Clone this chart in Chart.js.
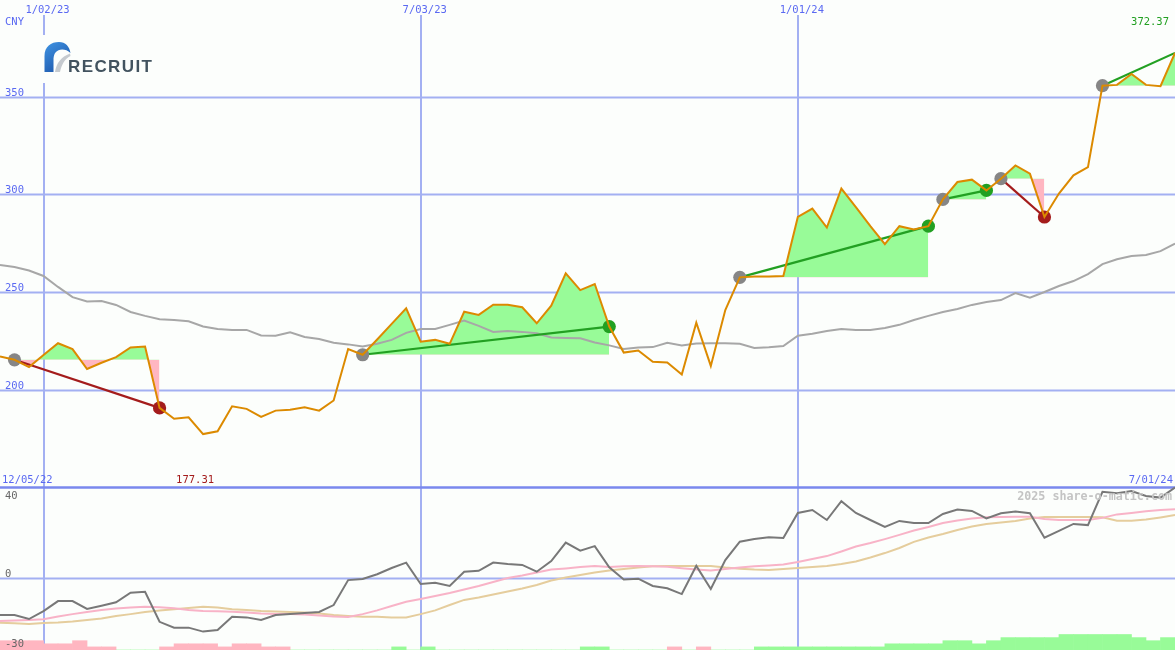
<!DOCTYPE html>
<html>
<head>
<meta charset="utf-8">
<script src="https://cdn.jsdelivr.net/npm/chart.js@4.4.1/dist/chart.umd.min.js"></script>
<style>
  html, body { margin: 0; padding: 0; background: #fcfefc; }
  #wrap { width: 1175px; height: 650px; }
</style>
</head>
<body>
<div id="wrap"><canvas id="c" width="1175" height="650"></canvas></div>
<script>
// ---------------- DATA ----------------
const firstWeek = -3;              // week index of first point (weeks relative to 1/02/23)
const currency = 'CNY';
const startLabel = '12/05/22';
const endLabel = '7/01/24';
const dateTickWeeks = [0, 26, 52];
const dateTickLabels = ['1/02/23', '7/03/23', '1/01/24'];
const priceTicks = [350, 300, 250, 200];
const oscTicks = [40, 0, -30];

// weekly close price
const price = [
  217.0, 215.3, 211.6, 217.8, 223.8, 220.8, 210.6, 213.8, 216.7, 221.6, 222.1,
  190.7, 185.1, 185.9, 177.31, 178.7, 191.5, 190.2, 186.1, 189.3, 189.8,
  191.0, 189.3, 194.5, 220.8, 217.9, 225.7, 233.7, 241.7, 224.6, 225.5,
  223.5, 239.9, 238.3, 243.5, 243.5, 242.2, 234.0, 243.0, 259.5, 251.0,
  254.1, 232.3, 219.0, 220.1, 214.3, 213.9, 207.8, 234.3, 212.2, 240.8,
  257.5, 257.9, 258.0, 258.2, 288.4, 292.7, 283.0, 302.9, 293.4, 283.7,
  274.5, 283.7, 282.0, 283.7, 297.4, 306.3, 307.5, 302.0, 308.0, 314.8,
  310.6, 288.4, 300.4, 309.7, 313.9, 355.6, 356.0, 361.6, 356.0, 355.3, 372.37
];
// moving average (grey)
const movingAvg = [
  263.8, 262.8, 261.0, 258.2, 252.6, 247.4, 245.2, 245.4, 243.4, 239.8, 237.8,
  236.1, 235.7, 235.0, 232.4, 231.1, 230.6, 230.6, 227.8, 227.6, 229.4,
  227.0, 226.0, 224.0, 223.2, 222.1, 223.5, 225.5, 229.1, 231.1, 231.1,
  233.2, 235.4, 232.7, 229.6, 230.1, 229.6, 228.9, 226.7, 226.5, 226.3,
  224.2, 222.7, 220.9, 221.6, 221.8, 224.0, 222.6, 223.7, 223.8, 223.8,
  223.5, 221.4, 221.7, 222.4, 227.6, 228.6, 230.1, 231.1, 230.6, 230.6,
  231.6, 233.2, 235.7, 237.8, 239.8, 241.3, 243.4, 244.9, 245.9, 249.5,
  247.1, 250.0, 253.1, 255.6, 259.2, 264.3, 266.8, 268.4, 268.9, 270.9, 274.8
];
// lower panel oscillator lines
const oscMain = [
  -15.9, -15.9, -17.6, -14.2, -9.9, -9.9, -13.3, -11.9, -10.4, -6.3, -5.9,
  -18.8, -21.3, -21.3, -23.0, -22.3, -16.6, -16.9, -18.0, -15.9, -15.5,
  -15.0, -14.6, -11.6, -0.9, -0.4, 1.6, 4.3, 6.6, -2.6, -2.0,
  -3.4, 2.7, 3.1, 6.6, 6.0, 5.6, 2.7, 7.3, 15.2, 11.7,
  13.7, 4.6, -0.6, -0.3, -3.4, -4.4, -6.9, 5.2, -4.7, 7.7,
  15.6, 16.7, 17.5, 17.2, 27.9, 29.2, 24.9, 33.0, 27.9, 24.9,
  21.9, 24.5, 23.6, 23.6, 27.5, 29.4, 28.8, 25.6, 27.8, 28.5,
  27.8, 17.3, 20.2, 23.2, 22.7, 37.0, 36.4, 37.3, 35.2, 34.5, 38.8
];
const oscFast = [
  -18.5, -18.2, -18.0, -17.7, -16.5, -15.5, -14.6, -13.7, -13.1, -12.7, -12.3,
  -12.6, -13.0, -13.7, -14.2, -14.3, -14.5, -14.8, -15.2, -15.4, -15.5,
  -15.7, -16.1, -16.5, -16.7, -15.5, -13.9, -12.0, -10.2, -9.0, -7.7,
  -6.4, -4.9, -3.4, -1.7, 0.0, 1.1, 2.4, 3.6, 4.1, 4.7,
  5.2, 4.7, 5.0, 5.2, 5.0, 4.8, 4.2, 3.7, 3.2, 3.9,
  4.5, 5.0, 5.4, 5.8, 6.9, 8.2, 9.4, 11.4, 13.5, 15.0,
  16.7, 18.5, 20.4, 21.9, 23.6, 24.7, 25.5, 26.1, 26.2, 26.3,
  26.3, 25.3, 24.9, 24.9, 24.9, 25.8, 27.3, 27.9, 28.6, 29.2, 29.5
];
const oscSlow = [
  -19.2, -19.4, -19.7, -19.3, -19.1, -18.7, -18.0, -17.4, -16.3, -15.5, -14.6,
  -13.9, -13.4, -12.9, -12.3, -12.7, -13.4, -13.7, -14.2, -14.4, -14.6,
  -14.8, -15.2, -15.9, -16.3, -16.6, -16.6, -16.9, -16.9, -15.5, -13.9,
  -11.6, -9.4, -8.4, -7.1, -5.8, -4.5, -3.0, -1.1, 0.2, 1.3,
  2.4, 3.2, 3.9, 4.5, 5.0, 5.2, 5.2, 5.2, 5.2, 4.5,
  4.0, 3.6, 3.4, 3.9, 4.3, 4.7, 5.2, 6.0, 7.1, 8.8,
  10.7, 12.9, 15.5, 17.4, 18.9, 20.6, 22.1, 23.2, 23.8, 24.5,
  25.5, 26.2, 26.2, 26.2, 26.2, 26.1, 24.6, 24.6, 25.1, 26.0, 27.0
];
// weekly strength histogram (sign = colour, size = bar height)
const histogram = [
  -3, -3, -3, -2, -2, -3, -1, -1, 0, 0, 0,
  -1, -2, -2, -2, -1, -2, -2, -1, -1, 0,
  0, 0, 0, 0, 0, 0, 1, 0, 1, 0,
  0, 0, 0, 0, 0, 0, 0, 0, 0, 1,
  1, 0, 0, 0, 0, -1, 0, -1, 0, 0,
  0, 1, 1, 1, 1, 1, 1, 1, 1, 1,
  2, 2, 2, 2, 3, 3, 2, 3, 4, 4,
  4, 4, 5, 5, 5, 5, 5, 4, 3, 4
];
// swing segments (week indices)
const swingStart = [-2, 22, 48, 62, 66, 73];
const swingEnd   = [8, 39, 61, 65, 69, 78];
const swingClosed = [true, true, true, true, true, false];

// ---------------- STYLE ----------------
const W = 1175, H = 650;
const BG = '#fcfefc';
const GRID = '#a3b0f2';
const BORDER = '#7a88ee';
const LABEL_BLUE = '#5a69f2';
const FILL_UP = 'rgb(152,251,152)';
const FILL_DOWN = 'rgb(255,182,193)';
const UP = '#22a022';
const DOWN = '#a41c1c';
const MONO = '"DejaVu Sans Mono", monospace';

const wk = i => i + firstWeek;
const pt = arr => arr.map((v, i) => ({ x: wk(i), y: v }));
const priceAt = w => price[w - firstWeek];

const datasets = [];

// histogram bars
datasets.push({
  type: 'bar', yAxisID: 'yh', order: 20,
  data: histogram.map((v, i) => ({ x: wk(i) + 0.5, y: Math.abs(v) })),
  backgroundColor: histogram.map(v => v >= 0 ? FILL_UP : FILL_DOWN),
  borderWidth: 0, barPercentage: 1, categoryPercentage: 1, grouped: false
});

// swing fills
swingStart.forEach((s, k) => {
  const e = swingEnd[k];
  const seg = [];
  for (let w = s; w <= e; w++) seg.push({ x: w, y: priceAt(w) });
  datasets.push({
    type: 'line', yAxisID: 'y', order: 15,
    data: seg, borderWidth: 0, borderColor: 'rgba(0,0,0,0)', pointRadius: 0,
    tension: 0,
    fill: { target: { value: priceAt(s) }, above: FILL_UP, below: FILL_DOWN }
  });
});

// moving average
datasets.push({ type: 'line', yAxisID: 'y', order: 12, data: pt(movingAvg),
  borderColor: '#a7a7a7', borderWidth: 2, pointRadius: 0, tension: 0, fill: false });

// oscillator lines
datasets.push({ type: 'line', yAxisID: 'yo', order: 11, data: pt(oscSlow),
  borderColor: '#e5cd9d', borderWidth: 2, pointRadius: 0, tension: 0, fill: false });
datasets.push({ type: 'line', yAxisID: 'yo', order: 10, data: pt(oscFast),
  borderColor: '#f8b3c7', borderWidth: 2, pointRadius: 0, tension: 0, fill: false });
datasets.push({ type: 'line', yAxisID: 'yo', order: 9, data: pt(oscMain),
  borderColor: '#787878', borderWidth: 2, pointRadius: 0, tension: 0, fill: false });

// trend lines
swingStart.forEach((s, k) => {
  const e = swingEnd[k];
  const col = priceAt(e) >= priceAt(s) ? UP : DOWN;
  datasets.push({ type: 'line', yAxisID: 'y', order: 5,
    data: [{ x: s, y: priceAt(s) }, { x: e, y: priceAt(e) }],
    borderColor: col, borderWidth: 2.2, pointRadius: 0, tension: 0, fill: false });
});

// swing markers
const markerPts = [], markerCols = [];
swingStart.forEach((s, k) => {
  const e = swingEnd[k];
  markerPts.push({ x: s, y: priceAt(s) }); markerCols.push('#868686');
  if (swingClosed[k]) {
    markerPts.push({ x: e, y: priceAt(e) });
    markerCols.push(priceAt(e) >= priceAt(s) ? UP : DOWN);
  }
});
datasets.push({ type: 'line', yAxisID: 'y', order: 3, data: markerPts, showLine: false,
  pointRadius: 6.6, pointHoverRadius: 6.6, pointBorderWidth: 0,
  pointBackgroundColor: markerCols, pointBorderColor: markerCols });

// price line
datasets.push({ type: 'line', yAxisID: 'y', order: 1, data: pt(price),
  borderColor: '#dc8a00', borderWidth: 2, pointRadius: 0, tension: 0, fill: false });

// ---------------- DECORATION PLUGIN ----------------
function hline(ctx, x0, x1, y) { ctx.beginPath(); ctx.moveTo(x0, y); ctx.lineTo(x1, y); ctx.stroke(); }
function vline(ctx, x, y0, y1) { ctx.beginPath(); ctx.moveTo(x, y0); ctx.lineTo(x, y1); ctx.stroke(); }

function drawLogo(ctx) {
  ctx.save();
  ctx.fillStyle = BG; ctx.fillRect(38, 35, 124, 48);
  const g = ctx.createLinearGradient(45, 43, 66, 72);
  g.addColorStop(0, '#3f93e2'); g.addColorStop(1, '#1a52a6');
  ctx.fillStyle = g;
  ctx.beginPath();
  ctx.moveTo(44.5, 72);
  ctx.lineTo(44.5, 56);
  ctx.bezierCurveTo(44.5, 46.5, 51, 42, 59, 42);
  ctx.bezierCurveTo(65.5, 42, 69.5, 46.5, 70.5, 53);
  ctx.bezierCurveTo(67, 49.5, 62, 48.8, 58.5, 50.2);
  ctx.bezierCurveTo(55, 51.8, 53.5, 55, 53.5, 60);
  ctx.lineTo(53.5, 72);
  ctx.closePath(); ctx.fill();
  ctx.fillStyle = '#c5cacf';
  ctx.beginPath();
  ctx.moveTo(55, 72);
  ctx.bezierCurveTo(56.5, 63, 61, 57, 70, 53.5);
  ctx.lineTo(70.5, 56);
  ctx.bezierCurveTo(64.5, 59, 61.5, 65, 60, 72);
  ctx.closePath(); ctx.fill();
  ctx.fillStyle = '#42535f';
  ctx.font = 'bold 17px "Liberation Sans", Arial, sans-serif';
  ctx.textAlign = 'left'; ctx.textBaseline = 'alphabetic';
  try { ctx.letterSpacing = '1.4px'; } catch (e) {}
  ctx.fillText('RECRUIT', 68, 71.5);
  ctx.restore();
}

const deco = {
  id: 'deco',
  beforeDraw(chart) {
    const ctx = chart.ctx, sx = chart.scales.x, sy = chart.scales.y, so = chart.scales.yo;
    ctx.save();
    ctx.fillStyle = BG; ctx.fillRect(0, 0, W, H);
    ctx.strokeStyle = GRID; ctx.lineWidth = 2;
    priceTicks.forEach(v => hline(ctx, 0, W, Math.round(sy.getPixelForValue(v)) + 0.5));
    oscTicks.forEach(v => {
      const p = so.getPixelForValue(v);
      if (p > 492 && p < 640) hline(ctx, 0, W, Math.round(p) + 0.5);
    });
    dateTickWeeks.forEach(w => vline(ctx, Math.round(sx.getPixelForValue(w)), 15, H));
    ctx.strokeStyle = BORDER; ctx.lineWidth = 2.5;
    hline(ctx, 0, W, 487.5);
    ctx.restore();
    drawLogo(ctx);
  },
  afterDatasetsDraw(chart) {
    const ctx = chart.ctx, sx = chart.scales.x, sy = chart.scales.y, so = chart.scales.yo;
    ctx.save();
    ctx.font = '10.5px ' + MONO;
    ctx.textBaseline = 'alphabetic';
    // date labels top
    ctx.fillStyle = LABEL_BLUE; ctx.textAlign = 'center';
    dateTickWeeks.forEach((w, i) => ctx.fillText(dateTickLabels[i], sx.getPixelForValue(w) + 4, 13));
    // currency + price ticks
    ctx.textAlign = 'left';
    ctx.fillText(currency, 5, 25);
    priceTicks.forEach(v => ctx.fillText(String(v), 5, Math.round(sy.getPixelForValue(v)) - 1));
    // start / end dates
    ctx.fillText(startLabel, 2, 483);
    ctx.textAlign = 'right';
    ctx.fillText(endLabel, 1173, 483);
    // last price
    ctx.fillStyle = UP;
    ctx.fillText(price[price.length - 1].toFixed(2), 1169, 25);
    // min price
    let mi = 0; price.forEach((v, i) => { if (v < price[mi]) mi = i; });
    ctx.fillStyle = '#a41c1c'; ctx.textAlign = 'center';
    ctx.fillText(price[mi].toFixed(2), sx.getPixelForValue(wk(mi)) - 8, 483);
    // oscillator ticks
    ctx.fillStyle = '#666666'; ctx.textAlign = 'left';
    oscTicks.forEach(v => {
      let p = Math.round(so.getPixelForValue(v)) - 1;
      p = Math.max(499, Math.min(647, p));
      ctx.fillText(String(v), 5, p);
    });
    // watermark
    ctx.fillStyle = '#c4c4c4'; ctx.textAlign = 'right';
    ctx.font = 'bold 11.7px ' + MONO;
    ctx.fillText('2025 share-o-matic.com', 1172, 500);
    ctx.restore();
  }
};

// ---------------- CHART ----------------
new Chart(document.getElementById('c'), {
  type: 'line',
  data: { datasets },
  options: {
    responsive: false, animation: false, devicePixelRatio: 1,
    layout: { padding: 0, autoPadding: false },
    plugins: { legend: { display: false }, tooltip: { enabled: false }, title: { display: false } },
    events: [],
    scales: {
      x: { type: 'linear', min: -3, max: 78, display: false, offset: false },
      y: { type: 'linear', min: 66.8, max: 399.44, display: false },
      yo: { type: 'linear', min: -30.9, max: 248.07, display: false },
      yh: { type: 'linear', min: 0, max: 209.7, display: false }
    }
  },
  plugins: [deco]
});
</script>
</body>
</html>
